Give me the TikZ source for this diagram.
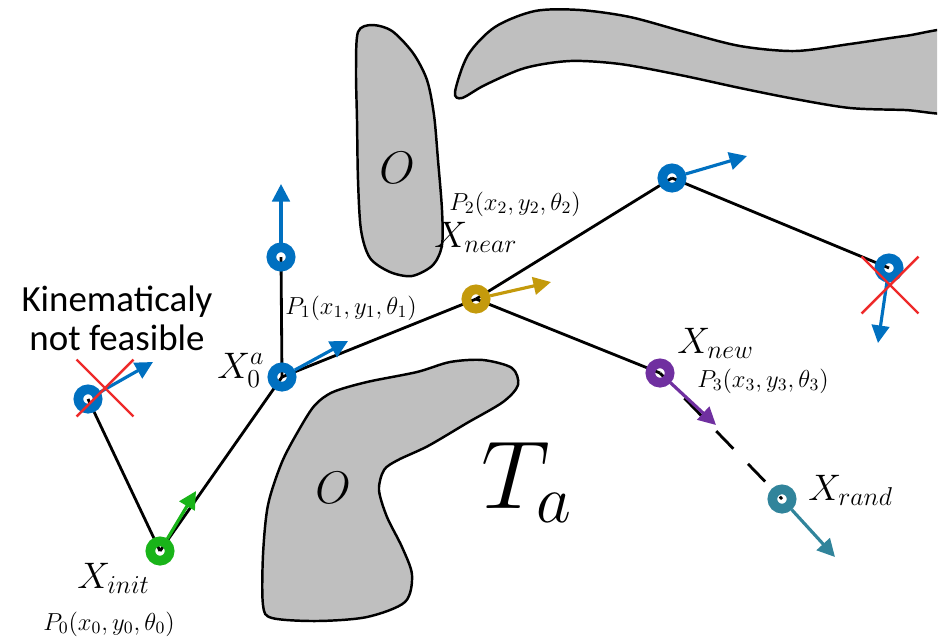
\RequirePackage{fix-cm}
\documentclass[tikz,border=0pt]{standalone}
\usepackage{amsmath}
\usepackage{fontspec}
\setsansfont{Carlito}
\usetikzlibrary{arrows.meta,backgrounds,shapes.misc}
\definecolor{blue}{HTML}{0070C0}
\definecolor{green}{HTML}{19B419}
\definecolor{gold}{HTML}{C49A0C}
\definecolor{purple}{HTML}{7030A0}
\definecolor{teal}{HTML}{31849B}
\definecolor{red}{HTML}{EE2A2A}
\definecolor{obst}{HTML}{BFBFBF}

\begin{document}
\begin{tikzpicture}[x=0.02cm,y=-0.02cm,>=Latex,
  ring/.style={circle,draw=#1,line width=5.5pt,minimum size=11pt,inner sep=0pt},
  head/.style={line width=1.8pt,-{Triangle[length=10pt,width=10pt]}},
  edge/.style={line width=1.6pt},
  blob/.style={fill=obst,draw=black,line width=1.4pt},
  xmark/.style={cross out,draw=red,line width=1.4pt,minimum size=31pt,inner sep=0pt},
  lbl/.style={anchor=base west,inner sep=0pt,font=\fontsize{21}{25}\selectfont},
  plbl/.style={anchor=base west,inner sep=0pt,font=\fontsize{14}{16}\selectfont}]
  \useasboundingbox (0,0) rectangle (944,637);
  % obstacles
  \draw[blob] plot[smooth cycle] coordinates {(358,32) (372,25) (392,31) (413,53) (427,80)
    (434,115) (438,160) (442,210) (442,245) (433,265) (412,276) (390,272) (370,258)
    (361,230) (358,180) (357,120) (356,70)};
  \begin{scope}
    \clip (0,0) rectangle (937,637);
    \draw[blob] plot[smooth cycle] coordinates {(455,92) (468,55) (495,27) (535,11) (580,10)
      (630,17) (685,32) (740,46) (795,51) (850,44) (905,36) (960,30) (980,70) (960,112)
      (905,110) (850,108) (795,99) (740,88) (680,75) (620,64) (570,61) (525,68) (485,85)
      (462,98)};
  \end{scope}
  \draw[blob] plot[smooth cycle] coordinates {(518,385) (512,368) (483,360) (450,362)
    (417,372) (367,382) (333,392) (315,405) (300,428) (282,462) (268,505) (263,555)
    (263,605) (272,618) (317,621) (367,617) (405,602) (412,575) (402,547) (387,517)
    (379,490) (384,470) (398,460) (428,446) (467,423) (503,402)};
  \node[font=\fontsize{26}{30}\selectfont] (o1) at (397,168) {$O$};
  \node[font=\fontsize{26}{30}\selectfont] (o2) at (333,488) {$O$};

  % tree vertices
  \node[ring=green] (init) at (160,551) {};
  \node[ring=blue] (bad1) at (88,399) {};
  \node[ring=blue] (a0) at (282,377) {};
  \node[ring=blue] (p1) at (281,257) {};
  \node[ring=gold] (near) at (476,299) {};
  \node[ring=blue] (top) at (672,178) {};
  \node[ring=blue] (bad2) at (889,268) {};
  \node[ring=purple] (new) at (660,373) {};
  \node[ring=teal] (rand) at (782,499) {};

  \begin{scope}[on background layer]
    \foreach \a/\b in {init/bad1,init/a0,a0/p1,a0/near,near/top,top/bad2,near/new}
      \draw[edge] (\a.center) -- (\b.center);
    \draw[edge,dash pattern=on 14pt off 12pt,dash phase=6pt] (new.center) -- (rand.center);
  \end{scope}

  % headings
  \foreach \n/\c/\p in {init/green/{196,491},bad1/blue/{153,362},a0/blue/{348,341},
      p1/blue/{281,184},near/gold/{551,282},top/blue/{747,156},bad2/blue/{878,343},
      new/purple/{716,425},rand/teal/{835,557}}{
    \coordinate (\n-h) at (\p);
    \draw[head,\c] (\n) -- (\n-h);
  }

  \node[xmark] (x1) at (105,388) {};
  \node[xmark] (x2) at (890,285) {};

  % labels
  \node[font=\sffamily\fontsize{21}{22}\selectfont,align=center,inner sep=0pt] (kin)
    at (117,318) {Kinematicaly\\not feasible};
  \node[lbl] (xinit) at (77,588) {$X_{init}$};
  \node[plbl] (p0l) at (43,630) {$P_0(x_0,y_0,\theta_0)$};
  \node[lbl] (xa) at (217,378) {$X_0^a$};
  \node[plbl] (p1l) at (285,314) {$P_1(x_1,y_1,\theta_1)$};
  \node[plbl] (p2l) at (449,210) {$P_2(x_2,y_2,\theta_2)$};
  \node[lbl] (xnear) at (434,247) {$X_{near}$};
  \node[lbl] (xnew) at (677,353) {$X_{new}$};
  \node[plbl] (p3l) at (697,387) {$P_3(x_3,y_3,\theta_3)$};
  \node[lbl] (xrand) at (808,500) {$X_{rand}$};
  \node[lbl,font=\fontsize{55}{60}\selectfont] (ta) at (481,508) {$T_a$};
\end{tikzpicture}
\end{document}
